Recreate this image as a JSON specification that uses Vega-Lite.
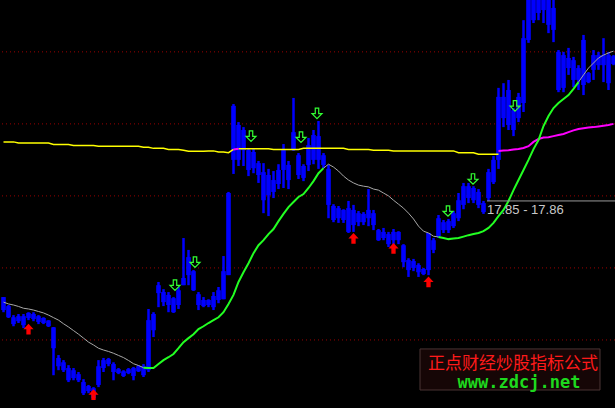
{
"$schema": "https://vega.github.io/schema/vega-lite/v6.json",
"width": 615, "height": 408, "padding": 0, "autosize": "none",
"background": "#000000",
"config": {"view": {"stroke": null}, "axis": {"disable": true}},
"datasets": {
"grid": [{"g":14},{"g":16},{"g":18},{"g":20},{"g":22}],
"k": [
{"t":0,"h":15.19,"l":14.77,"o":15.19,"c":14.83},{"t":1,"h":14.97,"l":14.61,"o":14.94,"c":14.63},{"t":2,"h":14.69,"l":14.38,"o":14.63,"c":14.44},{"t":3,"h":14.72,"l":14.47,"o":14.66,"c":14.52},{"t":4,"h":14.72,"l":14.33,"o":14.66,"c":14.41},{"t":5,"h":14.77,"l":14.55,"o":14.75,"c":14.61},{"t":6,"h":14.77,"l":14.52,"o":14.72,"c":14.58},{"t":7,"h":14.69,"l":14.44,"o":14.66,"c":14.50},{"t":8,"h":14.63,"l":14.44,"o":14.61,"c":14.47},{"t":9,"h":14.55,"l":14.36,"o":14.54,"c":14.38},
{"t":10,"h":14.36,"l":13.02,"o":14.35,"c":13.77},{"t":11,"h":13.58,"l":13.16,"o":13.50,"c":13.27},{"t":12,"h":13.44,"l":13.11,"o":13.38,"c":13.16},{"t":13,"h":13.30,"l":12.83,"o":13.22,"c":12.88},{"t":14,"h":13.22,"l":12.88,"o":13.16,"c":12.94},{"t":15,"h":13.11,"l":12.83,"o":13.05,"c":12.88},{"t":16,"h":12.91,"l":12.47,"o":12.83,"c":12.52},{"t":17,"h":12.75,"l":12.52,"o":12.72,"c":12.58},{"t":18,"h":12.69,"l":12.33,"o":12.66,"c":12.38},{"t":19,"h":13.44,"l":12.69,"o":13.27,"c":12.75},
{"t":20,"h":13.50,"l":13.11,"o":13.44,"c":13.22},{"t":21,"h":13.50,"l":13.27,"o":13.47,"c":13.33},{"t":22,"h":13.38,"l":12.88,"o":13.33,"c":13.11},{"t":23,"h":13.22,"l":13.05,"o":13.19,"c":13.08},{"t":24,"h":13.16,"l":12.97,"o":13.13,"c":13.00},{"t":25,"h":13.22,"l":13.05,"o":13.19,"c":13.08},{"t":26,"h":13.25,"l":12.88,"o":13.22,"c":13.00},{"t":27,"h":13.30,"l":13.11,"o":13.27,"c":13.13},{"t":28,"h":13.33,"l":12.97,"o":13.27,"c":13.02},{"t":29,"h":14.86,"l":13.11,"o":14.55,"c":13.16},
{"t":30,"h":14.77,"l":14.08,"o":14.72,"c":14.27},{"t":31,"h":15.61,"l":14.91,"o":15.52,"c":15.30},{"t":32,"h":15.41,"l":14.94,"o":15.33,"c":15.05},{"t":33,"h":15.33,"l":14.77,"o":15.25,"c":14.97},{"t":34,"h":15.19,"l":14.75,"o":15.16,"c":14.77},{"t":35,"h":15.47,"l":14.86,"o":15.38,"c":14.97},{"t":36,"h":16.83,"l":15.52,"o":15.72,"c":15.52},{"t":37,"h":16.50,"l":15.52,"o":16.30,"c":15.80},{"t":38,"h":15.94,"l":15.36,"o":15.91,"c":15.38},{"t":39,"h":15.33,"l":14.83,"o":15.27,"c":14.97},
{"t":40,"h":15.19,"l":14.91,"o":15.11,"c":14.94},{"t":41,"h":15.13,"l":14.91,"o":15.11,"c":14.97},{"t":42,"h":15.33,"l":14.83,"o":15.22,"c":14.91},{"t":43,"h":15.47,"l":15.02,"o":15.38,"c":15.11},{"t":44,"h":16.33,"l":15.13,"o":15.91,"c":15.13},{"t":45,"h":18.11,"l":15.80,"o":18.08,"c":15.80},{"t":46,"h":20.55,"l":18.61,"o":20.50,"c":19.00},{"t":47,"h":20.05,"l":18.83,"o":19.97,"c":19.00},{"t":48,"h":19.91,"l":18.83,"o":19.83,"c":19.27},{"t":49,"h":19.30,"l":18.55,"o":19.27,"c":18.72},
{"t":50,"h":19.33,"l":18.63,"o":19.22,"c":18.77},{"t":51,"h":18.97,"l":18.36,"o":18.91,"c":18.58},{"t":52,"h":18.91,"l":17.52,"o":18.66,"c":17.88},{"t":53,"h":18.75,"l":17.44,"o":18.58,"c":18.02},{"t":54,"h":18.69,"l":17.94,"o":18.44,"c":18.11},{"t":55,"h":18.88,"l":18.19,"o":18.72,"c":18.33},{"t":56,"h":19.44,"l":18.22,"o":19.27,"c":18.72},{"t":57,"h":18.97,"l":18.19,"o":18.86,"c":18.44},{"t":58,"h":20.72,"l":19.25,"o":19.77,"c":19.27},{"t":59,"h":19.19,"l":18.47,"o":19.13,"c":18.58},
{"t":60,"h":18.88,"l":18.41,"o":18.83,"c":18.50},{"t":61,"h":19.61,"l":18.69,"o":19.41,"c":18.86},{"t":62,"h":19.83,"l":18.88,"o":19.69,"c":19.00},{"t":63,"h":20.08,"l":18.75,"o":19.66,"c":19.00},{"t":64,"h":19.19,"l":18.77,"o":19.13,"c":18.86},{"t":65,"h":18.86,"l":17.38,"o":18.75,"c":17.75},{"t":66,"h":17.77,"l":17.27,"o":17.72,"c":17.33},{"t":67,"h":17.72,"l":17.25,"o":17.66,"c":17.38},{"t":68,"h":17.63,"l":17.25,"o":17.61,"c":17.33},{"t":69,"h":17.86,"l":16.97,"o":17.66,"c":17.00},
{"t":70,"h":17.75,"l":17.00,"o":17.61,"c":17.19},{"t":71,"h":17.58,"l":17.16,"o":17.52,"c":17.27},{"t":72,"h":17.55,"l":17.19,"o":17.50,"c":17.27},{"t":73,"h":18.19,"l":17.16,"o":17.61,"c":17.38},{"t":74,"h":17.61,"l":17.05,"o":17.52,"c":17.19},{"t":75,"h":17.08,"l":16.75,"o":17.05,"c":16.77},{"t":76,"h":17.11,"l":16.77,"o":17.00,"c":16.83},{"t":77,"h":17.00,"l":16.58,"o":16.94,"c":16.66},{"t":78,"h":17.08,"l":16.61,"o":17.00,"c":16.77},{"t":79,"h":17.02,"l":16.66,"o":17.00,"c":16.77},
{"t":80,"h":16.66,"l":16.02,"o":16.63,"c":16.16},{"t":81,"h":16.27,"l":15.75,"o":16.22,"c":15.94},{"t":82,"h":16.25,"l":15.91,"o":16.19,"c":16.00},{"t":83,"h":16.13,"l":15.75,"o":16.08,"c":15.88},{"t":84,"h":16.00,"l":15.80,"o":15.97,"c":15.83},{"t":85,"h":16.97,"l":15.80,"o":16.97,"c":15.94},{"t":86,"h":16.83,"l":16.41,"o":16.77,"c":16.50},{"t":87,"h":17.47,"l":16.83,"o":17.38,"c":16.88},{"t":88,"h":17.33,"l":16.97,"o":17.27,"c":17.05},{"t":89,"h":17.36,"l":16.97,"o":17.30,"c":17.05},
{"t":90,"h":17.58,"l":17.11,"o":17.52,"c":17.16},{"t":91,"h":18.08,"l":17.30,"o":17.88,"c":17.38},{"t":92,"h":18.36,"l":17.63,"o":18.27,"c":17.75},{"t":93,"h":18.36,"l":17.80,"o":18.27,"c":17.94},{"t":94,"h":18.27,"l":17.80,"o":18.22,"c":17.88},{"t":95,"h":18.19,"l":17.66,"o":18.11,"c":17.75},{"t":96,"h":17.86,"l":17.50,"o":17.80,"c":17.55},{"t":97,"h":18.75,"l":17.86,"o":18.66,"c":17.94},{"t":98,"h":19.11,"l":18.33,"o":19.00,"c":18.38},{"t":99,"h":21.00,"l":18.75,"o":20.75,"c":19.00},
{"t":100,"h":21.13,"l":19.91,"o":20.75,"c":20.16},{"t":101,"h":21.22,"l":19.83,"o":20.94,"c":19.97},{"t":102,"h":20.44,"l":19.66,"o":20.38,"c":19.83},{"t":103,"h":20.86,"l":20.05,"o":20.75,"c":20.16},{"t":104,"h":22.88,"l":20.33,"o":22.38,"c":20.58},{"t":105,"h":23.80,"l":22.25,"o":23.60,"c":22.33},{"t":106,"h":23.80,"l":22.80,"o":23.60,"c":22.88},{"t":107,"h":23.80,"l":22.88,"o":23.60,"c":23.08},{"t":108,"h":23.80,"l":22.80,"o":23.60,"c":23.16},{"t":109,"h":23.80,"l":22.52,"o":23.60,"c":22.75},
{"t":110,"h":23.80,"l":22.27,"o":23.22,"c":22.61},{"t":111,"h":22.05,"l":20.88,"o":22.00,"c":20.94},{"t":112,"h":22.00,"l":20.88,"o":21.91,"c":21.00},{"t":113,"h":22.11,"l":21.36,"o":21.83,"c":21.55},{"t":114,"h":21.86,"l":21.02,"o":21.77,"c":21.22},{"t":115,"h":21.63,"l":20.94,"o":21.55,"c":21.22},{"t":116,"h":22.47,"l":20.80,"o":22.33,"c":21.08},{"t":117,"h":21.44,"l":21.13,"o":21.41,"c":21.16},{"t":118,"h":22.05,"l":21.22,"o":21.91,"c":21.50},{"t":119,"h":22.00,"l":21.50,"o":21.91,"c":21.63},
{"t":120,"h":22.38,"l":21.16,"o":21.91,"c":21.63},{"t":121,"h":22.00,"l":20.94,"o":21.91,"c":21.13},{"t":122,"h":21.91,"l":21.63,"o":21.88,"c":21.66}
],
"ma": [
{"t":0,"v":15.05,"s":"a"},{"t":1,"v":15.00,"s":"a"},{"t":2,"v":14.97,"s":"a"},{"t":3,"v":14.93,"s":"a"},{"t":4,"v":14.88,"s":"a"},{"t":5,"v":14.86,"s":"a"},{"t":6,"v":14.83,"s":"a"},{"t":7,"v":14.79,"s":"a"},{"t":8,"v":14.75,"s":"a"},{"t":9,"v":14.69,"s":"a"},{"t":10,"v":14.62,"s":"a"},{"t":11,"v":14.55,"s":"a"},{"t":12,"v":14.45,"s":"a"},{"t":13,"v":14.36,"s":"a"},{"t":14,"v":14.26,"s":"a"},{"t":15,"v":14.16,"s":"a"},{"t":16,"v":14.05,"s":"a"},{"t":17,"v":13.94,"s":"a"},{"t":18,"v":13.86,"s":"a"},{"t":19,"v":13.77,"s":"a"},{"t":20,"v":13.72,"s":"a"},{"t":21,"v":13.68,"s":"a"},{"t":22,"v":13.63,"s":"a"},{"t":23,"v":13.57,"s":"a"},{"t":24,"v":13.51,"s":"a"},{"t":25,"v":13.43,"s":"a"},{"t":26,"v":13.34,"s":"a"},{"t":27,"v":13.29,"s":"a"},{"t":28,"v":13.23,"s":"a"},
{"t":28,"v":13.23,"s":"b"},{"t":29,"v":13.22,"s":"b"},{"t":30,"v":13.22,"s":"b"},{"t":31,"v":13.33,"s":"b"},{"t":32,"v":13.44,"s":"b"},{"t":33,"v":13.52,"s":"b"},{"t":34,"v":13.61,"s":"b"},{"t":35,"v":13.77,"s":"b"},{"t":36,"v":13.94,"s":"b"},{"t":37,"v":14.05,"s":"b"},{"t":38,"v":14.16,"s":"b"},{"t":39,"v":14.30,"s":"b"},{"t":40,"v":14.38,"s":"b"},{"t":41,"v":14.47,"s":"b"},{"t":42,"v":14.55,"s":"b"},{"t":43,"v":14.63,"s":"b"},{"t":44,"v":14.77,"s":"b"},{"t":45,"v":15.00,"s":"b"},{"t":46,"v":15.25,"s":"b"},{"t":47,"v":15.61,"s":"b"},{"t":48,"v":15.88,"s":"b"},{"t":49,"v":16.13,"s":"b"},{"t":50,"v":16.41,"s":"b"},{"t":51,"v":16.63,"s":"b"},{"t":52,"v":16.77,"s":"b"},{"t":53,"v":16.94,"s":"b"},{"t":54,"v":17.08,"s":"b"},{"t":55,"v":17.30,"s":"b"},{"t":56,"v":17.50,"s":"b"},{"t":57,"v":17.69,"s":"b"},{"t":58,"v":17.83,"s":"b"},{"t":59,"v":17.97,"s":"b"},{"t":60,"v":18.05,"s":"b"},{"t":61,"v":18.22,"s":"b"},{"t":62,"v":18.41,"s":"b"},{"t":63,"v":18.63,"s":"b"},{"t":64,"v":18.77,"s":"b"},
{"t":64,"v":18.77,"s":"c"},{"t":65,"v":18.88,"s":"c"},{"t":66,"v":18.80,"s":"c"},{"t":67,"v":18.69,"s":"c"},{"t":68,"v":18.55,"s":"c"},{"t":69,"v":18.44,"s":"c"},{"t":70,"v":18.36,"s":"c"},{"t":71,"v":18.30,"s":"c"},{"t":72,"v":18.27,"s":"c"},{"t":73,"v":18.25,"s":"c"},{"t":74,"v":18.19,"s":"c"},{"t":75,"v":18.16,"s":"c"},{"t":76,"v":18.08,"s":"c"},{"t":77,"v":18.00,"s":"c"},{"t":78,"v":17.88,"s":"c"},{"t":79,"v":17.77,"s":"c"},{"t":80,"v":17.66,"s":"c"},{"t":81,"v":17.52,"s":"c"},{"t":82,"v":17.36,"s":"c"},{"t":83,"v":17.16,"s":"c"},{"t":84,"v":17.02,"s":"c"},{"t":85,"v":16.97,"s":"c"},{"t":86,"v":16.88,"s":"c"},{"t":87,"v":16.86,"s":"c"},
{"t":87,"v":16.86,"s":"d"},{"t":88,"v":16.83,"s":"d"},{"t":89,"v":16.80,"s":"d"},{"t":90,"v":16.82,"s":"d"},{"t":91,"v":16.83,"s":"d"},{"t":92,"v":16.87,"s":"d"},{"t":93,"v":16.91,"s":"d"},{"t":94,"v":16.94,"s":"d"},{"t":95,"v":16.97,"s":"d"},{"t":96,"v":17.02,"s":"d"},{"t":97,"v":17.11,"s":"d"},{"t":98,"v":17.25,"s":"d"},{"t":99,"v":17.44,"s":"d"},{"t":100,"v":17.61,"s":"d"},{"t":101,"v":17.86,"s":"d"},{"t":102,"v":18.16,"s":"d"},{"t":103,"v":18.44,"s":"d"},{"t":104,"v":18.72,"s":"d"},{"t":105,"v":19.00,"s":"d"},{"t":106,"v":19.30,"s":"d"},{"t":107,"v":19.55,"s":"d"},{"t":108,"v":19.94,"s":"d"},{"t":109,"v":20.22,"s":"d"},{"t":110,"v":20.44,"s":"d"},{"t":111,"v":20.58,"s":"d"},{"t":112,"v":20.69,"s":"d"},{"t":113,"v":20.80,"s":"d"},{"t":114,"v":20.97,"s":"d"},{"t":115,"v":21.16,"s":"d"},
{"t":115,"v":21.16,"s":"e"},{"t":116,"v":21.36,"s":"e"},{"t":117,"v":21.55,"s":"e"},{"t":118,"v":21.69,"s":"e"},{"t":119,"v":21.83,"s":"e"},{"t":120,"v":21.91,"s":"e"},{"t":121,"v":21.97,"s":"e"},{"t":122,"v":22.02,"s":"e"}
],
"lma": [
{"t":0,"v":19.50,"s":"y1"},{"t":2,"v":19.50,"s":"y1"},{"t":3,"v":19.47,"s":"y1"},{"t":9,"v":19.47,"s":"y1"},{"t":10,"v":19.43,"s":"y1"},{"t":13,"v":19.43,"s":"y1"},{"t":14,"v":19.40,"s":"y1"},{"t":18,"v":19.40,"s":"y1"},{"t":19,"v":19.38,"s":"y1"},{"t":27,"v":19.38,"s":"y1"},{"t":28,"v":19.35,"s":"y1"},{"t":29,"v":19.35,"s":"y1"},{"t":30,"v":19.32,"s":"y1"},{"t":32,"v":19.32,"s":"y1"},{"t":33,"v":19.29,"s":"y1"},{"t":35,"v":19.29,"s":"y1"},{"t":36,"v":19.27,"s":"y1"},{"t":37,"v":19.24,"s":"y1"},{"t":40,"v":19.24,"s":"y1"},{"t":41,"v":19.25,"s":"y1"},{"t":42,"v":19.25,"s":"y1"},{"t":43,"v":19.22,"s":"y1"},{"t":44,"v":19.22,"s":"y1"},{"t":45,"v":19.20,"s":"y1"},{"t":46,"v":19.29,"s":"y1"},
{"t":46,"v":19.29,"s":"m1"},{"t":47,"v":19.31,"s":"m1"},
{"t":47,"v":19.31,"s":"y2"},{"t":53,"v":19.31,"s":"y2"},{"t":54,"v":19.29,"s":"y2"},{"t":59,"v":19.29,"s":"y2"},{"t":60,"v":19.32,"s":"y2"},{"t":68,"v":19.32,"s":"y2"},{"t":69,"v":19.29,"s":"y2"},{"t":73,"v":19.29,"s":"y2"},{"t":74,"v":19.27,"s":"y2"},{"t":77,"v":19.27,"s":"y2"},{"t":78,"v":19.25,"s":"y2"},{"t":90,"v":19.25,"s":"y2"},{"t":91,"v":19.20,"s":"y2"},{"t":94,"v":19.20,"s":"y2"},{"t":95,"v":19.16,"s":"y2"},{"t":99,"v":19.16,"s":"y2"},
{"t":99,"v":19.25,"s":"m2"},{"t":100,"v":19.26,"s":"m2"},{"t":101,"v":19.27,"s":"m2"},{"t":102,"v":19.29,"s":"m2"},{"t":103,"v":19.30,"s":"m2"},{"t":104,"v":19.33,"s":"m2"},{"t":105,"v":19.38,"s":"m2"},{"t":106,"v":19.50,"s":"m2"},{"t":107,"v":19.58,"s":"m2"},{"t":108,"v":19.62,"s":"m2"},{"t":109,"v":19.63,"s":"m2"},{"t":110,"v":19.66,"s":"m2"},{"t":111,"v":19.69,"s":"m2"},{"t":112,"v":19.72,"s":"m2"},{"t":113,"v":19.77,"s":"m2"},{"t":114,"v":19.82,"s":"m2"},{"t":115,"v":19.86,"s":"m2"},{"t":116,"v":19.88,"s":"m2"},{"t":117,"v":19.90,"s":"m2"},{"t":118,"v":19.91,"s":"m2"},{"t":119,"v":19.93,"s":"m2"},{"t":120,"v":19.95,"s":"m2"},{"t":121,"v":19.97,"s":"m2"},{"t":122,"v":20.00,"s":"m2"}
],
"sig": [
{"t":5,"p":14.30,"d":"up"},{"t":18,"p":12.48,"d":"up"},{"t":70,"p":16.82,"d":"up"},{"t":78,"p":16.54,"d":"up"},{"t":85,"p":15.61,"d":"up"},
{"t":34.3,"p":15.52,"d":"dn"},{"t":38.3,"p":16.16,"d":"dn"},{"t":49.5,"p":19.66,"d":"dn"},{"t":59.5,"p":19.63,"d":"dn"},{"t":62.7,"p":20.29,"d":"dn"},{"t":88.9,"p":17.58,"d":"dn"},{"t":93.9,"p":18.47,"d":"dn"},{"t":102.3,"p":20.50,"d":"dn"}
],
"cur": [{"t0":96.7,"t1":122.5,"p":17.86,"tp":17.62,"label":"17.85 - 17.86"}],
"wm": [{"x0":83.3,"x1":119.3,"y0":13.75,"y1":12.61,"tc":101.9,"p1":13.34,"tc2":103.1,"p2":12.66,"l1":"正点财经炒股指标公式","l2":"www.zdcj.net"}]
},
"layer": [
{"data":{"name":"grid"},"mark":{"type":"rule","stroke":"#9a0000","strokeDash":[1,3],"strokeWidth":1},
 "encoding":{"y":{"field":"g","type":"quantitative","scale":{"domain":[12.11,23.44],"nice":false,"zero":false},"axis":null}}},
{"data":{"name":"k"},"mark":{"type":"rule","stroke":"#0000ff","strokeWidth":2.5,"clip":true},
 "encoding":{"x":{"field":"t","type":"quantitative","scale":{"domain":[-0.7,122.3],"nice":false,"zero":false},"axis":null},
  "y":{"field":"h","type":"quantitative","axis":null},"y2":{"field":"l"}}},
{"data":{"name":"k"},"mark":{"type":"rule","stroke":"#0000ff","strokeWidth":4.6,"clip":true},
 "encoding":{"x":{"field":"t","type":"quantitative","axis":null},
  "y":{"field":"o","type":"quantitative","axis":null},"y2":{"field":"c"}}},
{"data":{"name":"lma"},"transform":[{"filter":"datum.s == 'y1' || datum.s == 'y2'"}],"mark":{"type":"line","stroke":"#ffff00","strokeWidth":1.5,"clip":true},
 "encoding":{"x":{"field":"t","type":"quantitative","axis":null},"y":{"field":"v","type":"quantitative","axis":null},"detail":{"field":"s"}}},
{"data":{"name":"lma"},"transform":[{"filter":"datum.s == 'm1' || datum.s == 'm2'"}],"mark":{"type":"line","stroke":"#ff00ff","strokeWidth":2,"clip":true},
 "encoding":{"x":{"field":"t","type":"quantitative","axis":null},"y":{"field":"v","type":"quantitative","axis":null},"detail":{"field":"s"}}},
{"data":{"name":"ma"},"transform":[{"filter":"datum.s == 'a' || datum.s == 'c' || datum.s == 'e'"}],"mark":{"type":"line","stroke":"#a8a8a8","strokeWidth":1,"clip":true},
 "encoding":{"x":{"field":"t","type":"quantitative","axis":null},"y":{"field":"v","type":"quantitative","axis":null},"detail":{"field":"s"}}},
{"data":{"name":"ma"},"transform":[{"filter":"datum.s == 'b' || datum.s == 'd'"}],"mark":{"type":"line","stroke":"#22ff22","strokeWidth":2,"clip":true},
 "encoding":{"x":{"field":"t","type":"quantitative","axis":null},"y":{"field":"v","type":"quantitative","axis":null},"detail":{"field":"s"}}},
{"data":{"name":"sig"},"transform":[{"filter":"datum.d == 'up'"}],
 "mark":{"type":"point","shape":"M0,-1L0.95,0L0.4,0L0.4,1L-0.4,1L-0.4,0L-0.95,0Z","filled":true,"fill":"#ff0000","stroke":null,"size":115,"opacity":1},
 "encoding":{"x":{"field":"t","type":"quantitative","axis":null},"y":{"field":"p","type":"quantitative","axis":null}}},
{"data":{"name":"sig"},"transform":[{"filter":"datum.d == 'dn'"}],
 "mark":{"type":"point","shape":"M-0.33,-1L0.33,-1L0.33,0.05L0.95,0.05L0,1L-0.95,0.05L-0.33,0.05Z","filled":false,"stroke":"#33ff33","strokeWidth":1.2,"size":110,"opacity":1},
 "encoding":{"x":{"field":"t","type":"quantitative","axis":null},"y":{"field":"p","type":"quantitative","axis":null}}},
{"data":{"name":"cur"},"mark":{"type":"rule","stroke":"#9a9a9a","strokeWidth":1},
 "encoding":{"x":{"field":"t0","type":"quantitative","axis":null},"x2":{"field":"t1"},"y":{"field":"p","type":"quantitative","axis":null}}},
{"data":{"name":"cur"},"mark":{"type":"text","align":"left","baseline":"middle","font":"Liberation Sans","fontSize":13,"fill":"#c8c8c8"},
 "encoding":{"x":{"field":"t0","type":"quantitative","axis":null},"y":{"field":"tp","type":"quantitative","axis":null},"text":{"field":"label"}}},
{"data":{"name":"wm"},"mark":{"type":"rect","fill":"#160606","stroke":"#4a3434","strokeWidth":1},
 "encoding":{"x":{"field":"x0","type":"quantitative","axis":null},"x2":{"field":"x1"},"y":{"field":"y0","type":"quantitative","axis":null},"y2":{"field":"y1"}}},
{"data":{"name":"wm"},"mark":{"type":"text","align":"center","baseline":"middle","font":"Noto Sans CJK SC","fontSize":17,"fill":"#ff1a1a"},
 "encoding":{"x":{"field":"tc","type":"quantitative","axis":null},"y":{"field":"p1","type":"quantitative","axis":null},"text":{"field":"l1"}}},
{"data":{"name":"wm"},"mark":{"type":"text","align":"center","baseline":"alphabetic","font":"DejaVu Sans Mono","fontSize":17,"fontWeight":"bold","fill":"#1ed81e"},
 "encoding":{"x":{"field":"tc2","type":"quantitative","axis":null},"y":{"field":"p2","type":"quantitative","axis":null},"text":{"field":"l2"}}}
]
}
